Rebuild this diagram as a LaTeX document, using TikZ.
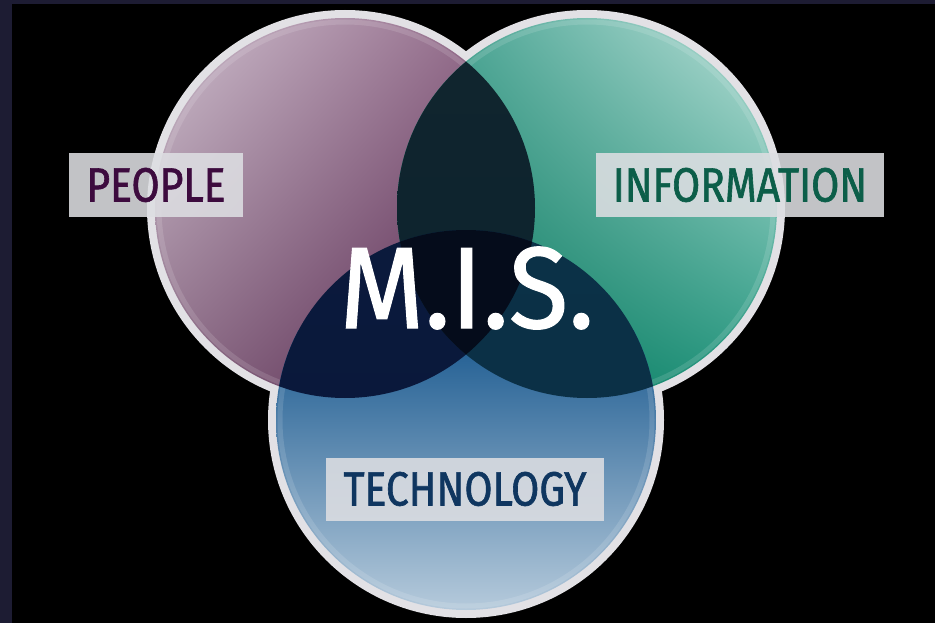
\documentclass[tikz,border=0pt]{standalone}
\usepackage{fontspec}
\setmainfont{Fira Sans}
\newfontfamily\tagfont[FakeStretch=0.85, FakeBold=1.3]{Fira Sans}
\newfontfamily\misfont[FakeStretch=0.94, FakeBold=0.9]{Fira Sans}
\usetikzlibrary{shadings}

\definecolor{frame}{HTML}{1D1C33}
\definecolor{rimgray}{HTML}{E2E1E5}
\definecolor{tagfill}{HTML}{DDDEE2}
\definecolor{peopletext}{HTML}{3D0B3E}
\definecolor{infotext}{HTML}{0C5E49}
\definecolor{techtext}{HTML}{0F3660}
% circle shades
\definecolor{pUL}{HTML}{D0C2D0}
\definecolor{pUR}{HTML}{8A5F80}
\definecolor{pLL}{HTML}{8A6A84}
\definecolor{pLR}{HTML}{481540}
\definecolor{iUL}{HTML}{3A9C8A}
\definecolor{iUR}{HTML}{BFE2DB}
\definecolor{iLL}{HTML}{006E52}
\definecolor{iLR}{HTML}{23977F}
\definecolor{tTop}{HTML}{1B5A90}
\definecolor{tBot}{HTML}{DCE6EE}
% overlap shades
\definecolor{piTop}{HTML}{11252E}
\definecolor{piBot}{HTML}{0B232E}
\definecolor{ptTop}{HTML}{0B1A3C}
\definecolor{ptBot}{HTML}{08163A}
\definecolor{itTop}{HTML}{0B3147}
\definecolor{itBot}{HTML}{0A2E44}
\definecolor{core}{HTML}{050C1B}

\tikzset{
    rim/.style    = {draw=rimgray, line width=16pt},
    glass/.style  = {draw=white, draw opacity=0.13, line width=5pt},
    tag/.style    = {fill=tagfill, fill opacity=0.88, text opacity=1,
                     minimum height=63pt, inner xsep=17pt,
                     text height=33pt, text depth=0pt,
                     font=\tagfont\fontsize{48}{48}\selectfont}
}

\begin{document}
\begin{tikzpicture}[x=1pt, y=-1pt]
    % background
    \fill[frame] (0,0) rectangle (935,623);
    \fill[black] (12,4) rectangle (935,623);
    \useasboundingbox (0,0) rectangle (935,623);

    \coordinate (people) at (345,208);
    \coordinate (info)   at (587,208);
    \coordinate (tech)   at (466,420);

    % outer rims
    \foreach \c in {people, info, tech}
        \draw[rim] (\c) circle (190);

    % circle fills
    \shade[upper left=pUL, upper right=pUR,
           lower left=pLL, lower right=pLR] (people) circle (190);
    \shade[upper left=iUL, upper right=iUR,
           lower left=iLL, lower right=iLR] (info) circle (190);
    \begin{scope}
        \clip (tech) circle (190);
        \shade[top color=tTop, bottom color=tBot] (270,330) rectangle (662,680);
    \end{scope}
    \foreach \c in {people, info, tech}
        \draw[glass] (\c) circle (186);

    % overlaps
    \begin{scope}
        \clip (people) circle (190);
        \shade[top color=piTop, bottom color=piBot] (info) circle (190);
        \shade[top color=ptTop, bottom color=ptBot] (tech) circle (190);
    \end{scope}
    \begin{scope}
        \clip (info) circle (190);
        \shade[top color=itTop, bottom color=itBot] (tech) circle (190);
    \end{scope}
    \begin{scope}
        \clip (people) circle (190);
        \clip (info) circle (190);
        \fill[core] (tech) circle (190);
    \end{scope}

    % labels
    \node (peopletag) [tag, text=peopletext] at (156,185) {PEOPLE};
    \node (infotag)   [tag, text=infotext]   at (740,185) {INFORMATION};
    \node (techtag)   [tag, text=techtext]   at (465,489) {TECHNOLOGY};
    \node (mis) [white, anchor=base, inner sep=0pt,
                 font=\misfont\fontsize{116}{116}\selectfont] at (467,328) {M.I.S.};
\end{tikzpicture}
\end{document}
